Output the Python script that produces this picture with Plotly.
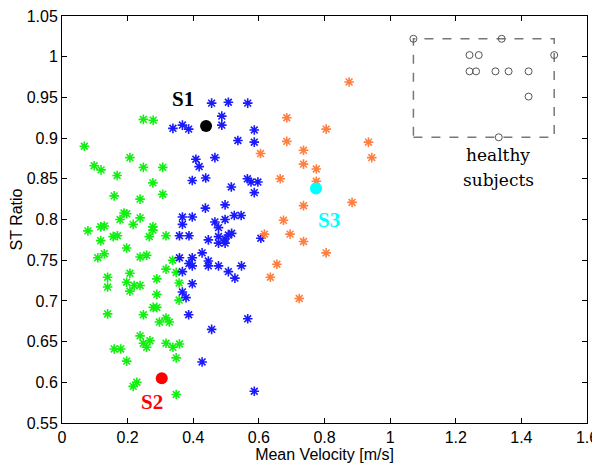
import plotly.graph_objects as go

# ---- data ----
green_x = [0.248, 0.278, 0.068, 0.207, 0.098, 0.119, 0.248, 0.307, 0.168, 0.277,
           0.159, 0.238, 0.307, 0.189, 0.197, 0.177, 0.238, 0.079, 0.118, 0.129,
           0.217, 0.277, 0.277, 0.156, 0.169, 0.118, 0.266, 0.317, 0.197, 0.129,
           0.109, 0.238, 0.258, 0.337, 0.139, 0.139, 0.207, 0.197, 0.207, 0.220,
           0.238, 0.289, 0.317, 0.348, 0.357, 0.289, 0.357, 0.139, 0.248, 0.278,
           0.289, 0.297, 0.317, 0.327, 0.238, 0.248, 0.258, 0.268, 0.317, 0.338,
           0.358, 0.159, 0.179, 0.197, 0.348, 0.217, 0.228, 0.348]
green_y = [0.923, 0.922, 0.890, 0.876, 0.866, 0.861, 0.864, 0.864, 0.854, 0.845,
           0.829, 0.825, 0.831, 0.808, 0.807, 0.800, 0.802, 0.786, 0.791, 0.792,
           0.794, 0.791, 0.787, 0.779, 0.780, 0.774, 0.779, 0.780, 0.765, 0.758,
           0.753, 0.754, 0.756, 0.750, 0.729, 0.717, 0.734, 0.723, 0.712, 0.719,
           0.719, 0.727, 0.739, 0.735, 0.722, 0.708, 0.701, 0.684, 0.683, 0.692,
           0.692, 0.674, 0.679, 0.674, 0.657, 0.648, 0.643, 0.651, 0.648, 0.643,
           0.647, 0.641, 0.641, 0.626, 0.630, 0.595, 0.600, 0.585]

blue_x = [0.338, 0.367, 0.386, 0.456, 0.507, 0.566, 0.487, 0.487, 0.586, 0.536,
          0.586, 0.408, 0.418, 0.466, 0.397, 0.438, 0.516, 0.565, 0.576, 0.597,
          0.586, 0.437, 0.497, 0.367, 0.367, 0.397, 0.466, 0.477, 0.497, 0.525,
          0.546, 0.358, 0.387, 0.446, 0.477, 0.477, 0.497, 0.497, 0.507, 0.517,
          0.606, 0.427, 0.358, 0.397, 0.387, 0.397, 0.446, 0.446, 0.477, 0.547,
          0.507, 0.527, 0.367, 0.397, 0.367, 0.378, 0.386, 0.566, 0.456, 0.427,
          0.586]
blue_y = [0.912, 0.916, 0.911, 0.943, 0.944, 0.943, 0.927, 0.916, 0.910, 0.897,
          0.895, 0.874, 0.865, 0.876, 0.848, 0.851, 0.840, 0.850, 0.846, 0.846,
          0.833, 0.814, 0.818, 0.803, 0.794, 0.803, 0.797, 0.790, 0.800, 0.805,
          0.805, 0.780, 0.780, 0.775, 0.779, 0.771, 0.771, 0.776, 0.781, 0.783,
          0.777, 0.759, 0.753, 0.753, 0.746, 0.743, 0.749, 0.743, 0.743, 0.743,
          0.736, 0.728, 0.736, 0.721, 0.711, 0.704, 0.683, 0.678, 0.665, 0.625,
          0.589]

orange_x = [0.605, 0.617, 0.695, 0.655, 0.635, 0.723, 0.675, 0.665, 0.685, 0.685,
            0.736, 0.736, 0.775, 0.775, 0.736, 0.736, 0.805, 0.805, 0.875, 0.884,
            0.934, 0.944]
orange_y = [0.881, 0.782, 0.782, 0.745, 0.729, 0.703, 0.799, 0.850, 0.925, 0.896,
            0.885, 0.868, 0.862, 0.847, 0.817, 0.773, 0.911, 0.759, 0.969, 0.821,
            0.895, 0.876]

healthy_x = [1.071, 1.340, 1.500, 1.242, 1.270, 1.242, 1.262, 1.321, 1.361, 1.422,
             1.422, 1.331]
healthy_y = [1.022, 1.022, 1.002, 1.002, 1.002, 0.982, 0.982, 0.982, 0.982, 0.982,
             0.951, 0.901]

special_names = ["S1", "S2", "S3"]
special_x = [0.439, 0.304, 0.774]
special_y = [0.915, 0.605, 0.838]
special_colors = ["#000000", "#ff0000", "#00ffff"]

x_tickvals = [0, 0.2, 0.4, 0.6, 0.8, 1.0, 1.2, 1.4, 1.6]
x_ticktext = ["0", "0.2", "0.4", "0.6", "0.8", "1", "1.2", "1.4", "1.6"]
y_tickvals = [0.55, 0.6, 0.65, 0.7, 0.75, 0.8, 0.85, 0.9, 0.95, 1.0, 1.05]
y_ticktext = ["0.55", "0.6", "0.65", "0.7", "0.75", "0.8", "0.85", "0.9", "0.95", "1", "1.05"]

# ---- figure ----
fig = go.Figure()


def stars(x, y, color):
    fig.add_trace(go.Scatter(
        x=x, y=y, mode="markers",
        marker=dict(symbol="asterisk-open", size=8, color=color,
                    line=dict(color=color, width=1.6)),
        showlegend=False, hoverinfo="x+y"))


stars(green_x, green_y, "#11f011")
stars(blue_x, blue_y, "#1a1aff")
stars(orange_x, orange_y, "#ff7f40")

fig.add_trace(go.Scatter(
    x=healthy_x, y=healthy_y, mode="markers",
    marker=dict(symbol="circle-open", size=7, color="#555555",
                line=dict(color="#555555", width=1)),
    showlegend=False))

fig.add_trace(go.Scatter(
    x=special_x, y=special_y, mode="markers",
    marker=dict(symbol="circle", size=12, color=special_colors, line=dict(width=0)),
    showlegend=False))

# dashed box around healthy subjects
fig.add_shape(type="rect", x0=min(healthy_x), x1=max(healthy_x),
              y0=min(healthy_y), y1=max(healthy_y),
              line=dict(color="#777777", width=1.5, dash="dash"), layer="below")

label_shifts = [(-23, 27), (-10, -24), (13, -31)]
for name, x, y, c, (dx, dy) in zip(special_names, special_x, special_y,
                                   special_colors, label_shifts):
    fig.add_annotation(x=x, y=y, text="<b>%s</b>" % name, showarrow=False,
                       xshift=dx, yshift=dy,
                       font=dict(family="Liberation Serif", size=21, color=c))

fig.add_annotation(x=1.33, y=0.879, text="healthy", showarrow=False,
                   font=dict(family="DejaVu Serif", size=17, color="#000000"))
fig.add_annotation(x=1.33, y=0.849, text="subjects", showarrow=False,
                   font=dict(family="DejaVu Serif", size=17, color="#000000"))

axis_font = dict(family="Liberation Sans", size=16, color="#000000")
axis_common = dict(showgrid=False, zeroline=False, showline=True, linecolor="#000000",
                   linewidth=1, mirror="ticks", ticks="inside", ticklen=5,
                   tickcolor="#000000", tickfont=axis_font, automargin=False,
                   ticklabeloverflow="allow")
fig.update_xaxes(range=[0, 1.6], tickvals=x_tickvals, ticktext=x_ticktext,
                 title=dict(text="Mean Velocity [m/s]", standoff=0, font=axis_font),
                 **axis_common)
fig.update_yaxes(range=[0.55, 1.05], tickvals=y_tickvals, ticktext=y_ticktext,
                 title=dict(text="ST Ratio", standoff=0, font=axis_font),
                 **axis_common)

# the page body has an 8px margin, so the figure is drawn 8px in from the corner
fig.update_layout(width=592, height=460, margin=dict(l=54, r=13, t=8, b=45),
                  plot_bgcolor="#ffffff", paper_bgcolor="#ffffff")

fig.write_html("out.html")
